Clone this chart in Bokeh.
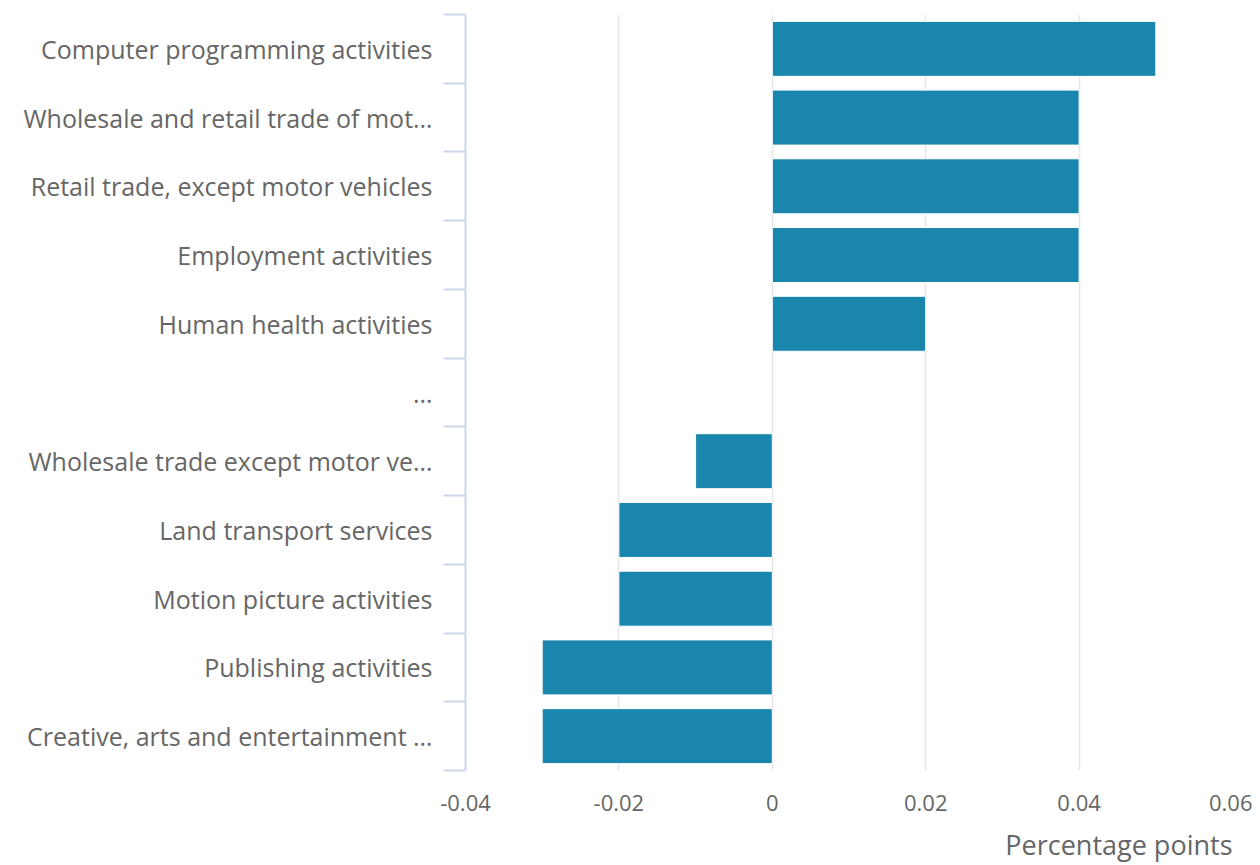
from bokeh.plotting import figure
from bokeh.models import Range1d, LinearAxis, FixedTicker, Title
from bokeh.embed import file_html
from bokeh.resources import INLINE

categories = [
    "Computer programming activities",
    "Wholesale and retail trade of mot\u2026",
    "Retail trade, except motor vehicles",
    "Employment activities",
    "Human health activities",
    "\u2026",
    "Wholesale trade except motor ve\u2026",
    "Land transport services",
    "Motion picture activities",
    "Publishing activities",
    "Creative, arts and entertainment \u2026",
]
values = [0.05, 0.04, 0.04, 0.04, 0.02, None, -0.01, -0.02, -0.02, -0.03, -0.03]
x_ticks = [-0.04, -0.02, 0, 0.02, 0.04, 0.06]
x_tick_labels = ["-0.04", "-0.02", "0", "0.02", "0.04", "0.06"]
axis_title = "Percentage points"

FONT = "Open Sans"
TXT = "#666666"

n = len(categories)
centers = [i + 0.5 for i in range(n)]
boundaries = list(range(n + 1))
bar_y = [c for c, v in zip(centers, values) if v is not None]
bar_x = [v for v in values if v is not None]

p = figure(
    frame_width=767, frame_height=756,
    x_range=Range1d(x_ticks[0], x_ticks[-1]), y_range=Range1d(n, 0),
    output_backend="svg", toolbar_location=None,
    min_border_left=465, min_border_right=20, min_border_top=14, min_border_bottom=0,
    y_axis_location=None,
)
p.outline_line_color = None

p.hbar(y=bar_y, left=0, right=bar_x, height=0.8,
       fill_color="#1a85ad", line_color="#ffffff", line_width=1)

xa = p.xaxis[0]
xa.ticker = FixedTicker(ticks=x_ticks)
xa.major_label_overrides = {t: l for t, l in zip(x_ticks, x_tick_labels)}
xa.axis_line_color = None
xa.major_tick_line_color = None
xa.minor_tick_line_color = None
xa.major_tick_out = 0
xa.major_tick_in = 0
xa.major_label_text_font = FONT
xa.major_label_text_font_size = "22px"
xa.major_label_text_color = TXT
xa.major_label_standoff = 24

p.add_layout(Title(text=axis_title, align="right", text_font=FONT,
                   text_font_size="27px", text_font_style="normal",
                   text_color=TXT, standoff=20, offset=0), "below")

p.xgrid.ticker = FixedTicker(ticks=x_ticks)
p.xgrid.grid_line_color = "#e6e6e6"
p.xgrid.grid_line_width = 1.5
p.ygrid.visible = False

ya = LinearAxis(
    ticker=FixedTicker(ticks=centers, minor_ticks=boundaries),
    major_label_overrides={c: lab for c, lab in zip(centers, categories)},
    axis_line_color="#ccd6eb", axis_line_width=2,
    major_tick_line_color=None, major_tick_out=0, major_tick_in=0,
    minor_tick_line_color="#ccd6eb", minor_tick_line_width=2,
    minor_tick_out=22, minor_tick_in=0,
    major_label_standoff=11,
    major_label_text_font=FONT, major_label_text_font_size="25px",
    major_label_text_color=TXT,
)
p.add_layout(ya, "left")

open("out.html", "w").write(file_html(p, INLINE))
